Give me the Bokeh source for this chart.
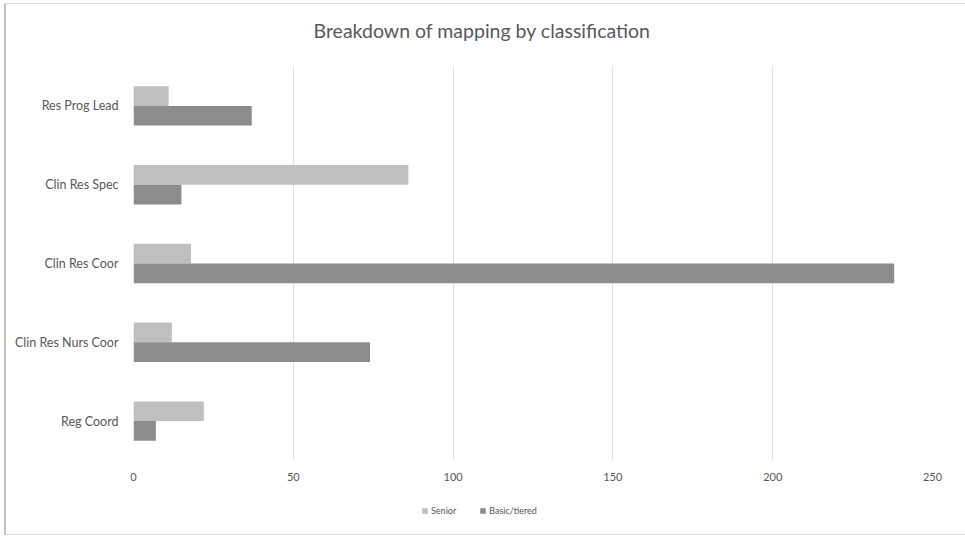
from bokeh.plotting import figure
from bokeh.layouts import column
from bokeh.models import FactorRange, Legend, LegendItem, ColumnDataSource, FixedTicker
from bokeh.transform import dodge
from bokeh.embed import file_html
from bokeh.resources import INLINE

categories = ["Res Prog Lead", "Clin Res Spec", "Clin Res Coor", "Clin Res Nurs Coor", "Reg Coord"]
senior = [11, 86, 18, 12, 22]
basic_tiered = [37, 15, 238, 74, 7]
x_ticks = [0, 50, 100, 150, 200, 250]
series_names = ["Senior", "Basic/tiered"]
title_text = "Breakdown of mapping by classification"

src = ColumnDataSource(dict(cat=categories, senior=senior, basic=basic_tiered))

FONT = "Lato"
TXT = "#595959"
C_SENIOR = "#bfbfbf"
C_BASIC = "#8c8c8c"
W = 959
ML = 127
MR = 33

# title strip
p0 = figure(width=W, height=62, output_backend="svg", toolbar_location=None,
            x_range=(0, 1), y_range=(0, 1), title=title_text,
            min_border_left=ML, min_border_right=MR, min_border_top=0, min_border_bottom=0)
p0.axis.visible = False
p0.grid.visible = False
p0.outline_line_color = None
p0.title.align = "left"
p0.title.text_font = FONT
p0.title.text_font_style = "normal"
p0.title.text_font_size = "19.5px"
p0.title.text_color = TXT
p0.title.offset = 180
p0.title.standoff = 24

# main chart
p = figure(width=W, height=420, output_backend="svg", toolbar_location=None,
           y_range=FactorRange(*list(reversed(categories))), x_range=(0, 250),
           min_border_left=ML, min_border_right=MR, min_border_top=0, min_border_bottom=26)

p.hbar(y=dodge("cat", 0.125, range=p.y_range), right="senior", left=0, height=0.25,
       source=src, color=C_SENIOR, line_color=None)
p.hbar(y=dodge("cat", -0.125, range=p.y_range), right="basic", left=0, height=0.25,
       source=src, color=C_BASIC, line_color=None)

p.xaxis.ticker = FixedTicker(ticks=x_ticks)
p.xaxis.axis_line_color = None
p.xaxis.major_tick_line_color = None
p.xaxis.minor_tick_line_color = None
p.xaxis.major_tick_out = 0
p.xaxis.major_label_text_font = FONT
p.xaxis.major_label_text_font_size = "11px"
p.xaxis.major_label_text_color = TXT
p.xaxis.major_label_standoff = 12

p.yaxis.axis_line_color = None
p.yaxis.major_tick_line_color = None
p.yaxis.major_tick_out = 0
p.yaxis.major_label_text_font = FONT
p.yaxis.major_label_text_font_size = "12.5px"
p.yaxis.major_label_text_color = TXT
p.yaxis.major_label_standoff = 15

p.ygrid.grid_line_color = None
p.xgrid.grid_line_color = "#dedede"
p.outline_line_color = None

# legend strip below the chart (its frame is aligned with the chart's frame)
p2 = figure(width=W, height=48, output_backend="svg", toolbar_location=None,
            x_range=(0, 1), y_range=(0, 1),
            min_border_left=ML, min_border_right=MR, min_border_top=0, min_border_bottom=0)
p2.axis.visible = False
p2.grid.visible = False
p2.outline_line_color = None
# swatch renderers kept outside the visible range; they only feed the legend
l1 = p2.hbar(y=[-5], right=[-5], left=-6, height=0.25, color=C_SENIOR, line_color=None)
l2 = p2.hbar(y=[-5], right=[-5], left=-6, height=0.25, color=C_BASIC, line_color=None)

legend = Legend(items=[LegendItem(label=series_names[0], renderers=[l1]),
                       LegendItem(label=series_names[1], renderers=[l2])],
                orientation="horizontal", location=(288, 18),
                label_text_font=FONT, label_text_font_size="9px", label_text_color=TXT,
                glyph_width=7, glyph_height=7, label_height=10, label_standoff=3, spacing=23,
                border_line_color=None, background_fill_alpha=0, margin=0, padding=0)
p2.add_layout(legend, "center")

layout = column(p0, p, p2, spacing=0,
                styles={"border-left": "2px solid #c4c4c4", "border-top": "1px solid #dcdcdc",
                        "border-bottom": "1px solid #dcdcdc", "margin-left": "4px",
                        "margin-top": "3px"})
open("out.html", "w").write(file_html(layout, INLINE))
